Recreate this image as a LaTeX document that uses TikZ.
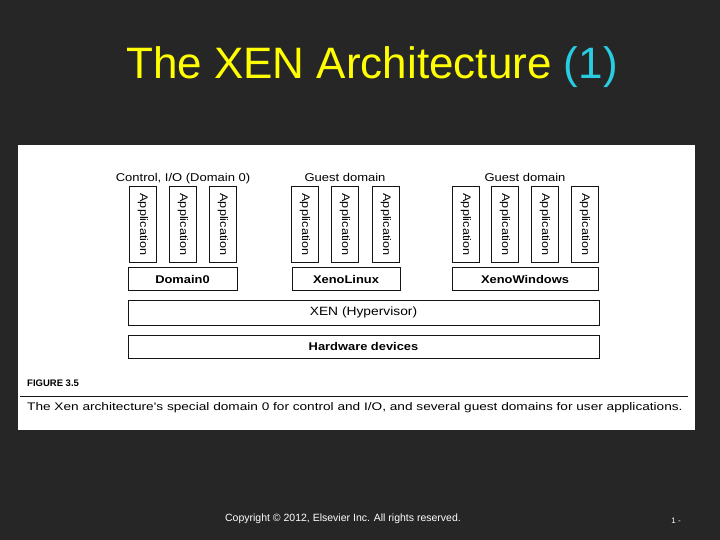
\documentclass[tikz,border=0pt]{standalone}
\usepackage{fontspec}
\setmainfont{Liberation Sans}
\newfontfamily\figfont[FakeStretch=1.15]{Liberation Sans}
\newfontfamily\capfont[FakeStretch=1.24]{Liberation Sans}
\usetikzlibrary{positioning, calc}
\definecolor{slide}{RGB}{38,38,38}
\definecolor{headyellow}{RGB}{255,255,0}
\definecolor{headcyan}{RGB}{40,205,225}
\definecolor{ink}{RGB}{20,20,20}
\begin{document}
\begin{tikzpicture}[x=1pt, y=-1pt,
  appbox/.style={draw=ink, line width=1pt, rotate=-90,
                 minimum width=75pt, minimum height=27pt, inner sep=0pt,
                 font=\figfont\fontsize{11}{13}\selectfont},
  barbox/.style={draw=ink, line width=1pt, minimum height=23pt, inner sep=0pt,
                 font=\figfont\bfseries\fontsize{11.2}{13}\selectfont},
  grouplbl/.style={inner sep=0pt, anchor=base, yshift=5pt,
                   font=\figfont\fontsize{11.3}{13}\selectfont},
]
  % slide and figure panel
  \fill[slide] (0,0) rectangle (720,540);
  \fill[white] (18,145) rectangle (695,430);

  \node[font=\fontsize{44}{50}\selectfont, color=headyellow] (title) at (372,67)
    {The XEN Architecture \textcolor{headcyan}{(1)}};

  % applications
  \foreach \x [count=\i] in {143,183,223}
    \node[appbox] (d0app\i) at (\x,224.5) {Application};
  \foreach \x [count=\i] in {305,345,386}
    \node[appbox] (lxapp\i) at (\x,224.5) {Application};
  \foreach \x [count=\i] in {466,505,545,585}
    \node[appbox] (wnapp\i) at (\x,224.5) {Application};

  \node[grouplbl] (ctrllbl) at (d0app2.west) {Control, I/O (Domain 0)};
  \node[grouplbl] (lxlbl) at (lxapp2.west) {Guest domain};
  \node[grouplbl] (wnlbl) at ($(wnapp2.west)!0.5!(wnapp3.west)$) {Guest domain};

  % domains and layers
  \node[barbox, minimum width=109pt] (dom0) at (182.5,279) {Domain0};
  \node[barbox, minimum width=108pt] (xlinux) at (346,279) {XenoLinux};
  \node[barbox, minimum width=146pt] (xwin) at (525,279) {XenoWindows};
  \node[barbox, minimum width=471pt, minimum height=25pt,
        font=\figfont\fontsize{12}{14}\selectfont] (xen) at (363.5,312.5) {XEN (Hypervisor)};
  \node[barbox, minimum width=471pt] (hw) at (363.5,346.5) {Hardware devices};

  % caption
  \node[anchor=west, inner sep=0pt, font=\bfseries\fontsize{9.5}{11}\selectfont] (fignum)
    at (27,383) {FIGURE 3.5};
  \draw[ink, line width=0.8pt] (20,396) -- (688,396);
  \node[anchor=west, inner sep=0pt, font=\capfont\fontsize{11}{13}\selectfont] (caption)
    at (27,408) {The Xen architecture's special domain 0 for control and I/O, and several guest domains for user applications.};

  % footer
  \node[white, font=\fontsize{10.5}{12}\selectfont] (copy) at (343,518.5)
    {Copyright \textcopyright{} 2012, Elsevier Inc. All rights reserved.};
  \node[white, font=\fontsize{8}{10}\selectfont] (pgno) at (676,521) {1 -};
\end{tikzpicture}
\end{document}
